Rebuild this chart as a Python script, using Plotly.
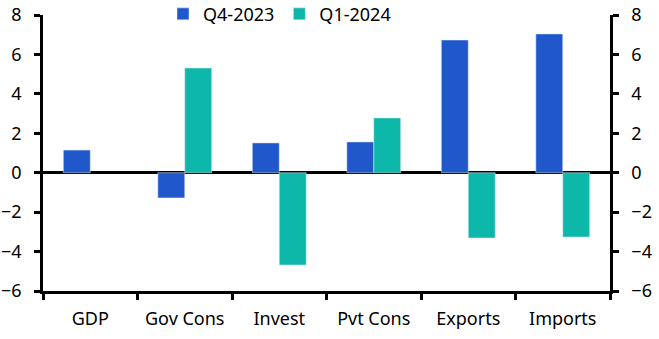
import plotly.graph_objects as go

categories = ["GDP", "Gov Cons", "Invest", "Pvt Cons", "Exports", "Imports"]
q4_2023 = [1.15, -1.28, 1.51, 1.56, 6.73, 7.04]
q1_2024 = [None, 5.31, -4.68, 2.78, -3.31, -3.26]
tick_vals = [-6, -4, -2, 0, 2, 4, 6, 8]

FONT = "Noto Sans"
FS = 18
fig = go.Figure()
fig.add_trace(go.Bar(x=categories, y=q4_2023, name="Q4-2023", marker_color="#2058CC"))
fig.add_trace(go.Bar(x=categories, y=q1_2024, name="Q1-2024", marker_color="#0DB8AA"))
# invisible trace to drive the right axis
fig.add_trace(go.Scatter(x=categories, y=[None]*len(categories), yaxis="y2",
                         showlegend=False, hoverinfo="skip"))

axis_common = dict(range=[-6, 8], tickvals=tick_vals, ticks="outside", ticklen=6,
                   tickwidth=2.5, tickcolor="black", showline=True, linecolor="black",
                   linewidth=2.5, showgrid=False, ticklabelstandoff=9,
                   tickfont=dict(size=FS, color="black", family=FONT))

fig.update_layout(
    width=659, height=339,
    margin=dict(l=43, r=49, t=15, b=48, autoexpand=False),
    plot_bgcolor="white", paper_bgcolor="white",
    barmode="group", bargap=0.43, bargroupgap=0,
    font=dict(family=FONT, size=FS, color="black"),
    legend=dict(orientation="h", x=(163 - 43) / 567, xanchor="left", y=1.003, yanchor="middle",
                font=dict(size=FS), itemwidth=30, traceorder="normal",
                bgcolor="rgba(0,0,0,0)"),
    xaxis=dict(tickson="boundaries", ticks="outside", ticklen=6, tickwidth=2.5,
               tickcolor="black", showline=True, linecolor="black", linewidth=2.5,
               showgrid=False, ticklabelstandoff=10,
               tickfont=dict(size=FS, color="black", family=FONT)),
    yaxis=dict(**axis_common, zeroline=True, zerolinecolor="black", zerolinewidth=2.5),
    yaxis2=dict(**axis_common, overlaying="y", side="right", zeroline=False),
)

fig.write_html("out.html")
